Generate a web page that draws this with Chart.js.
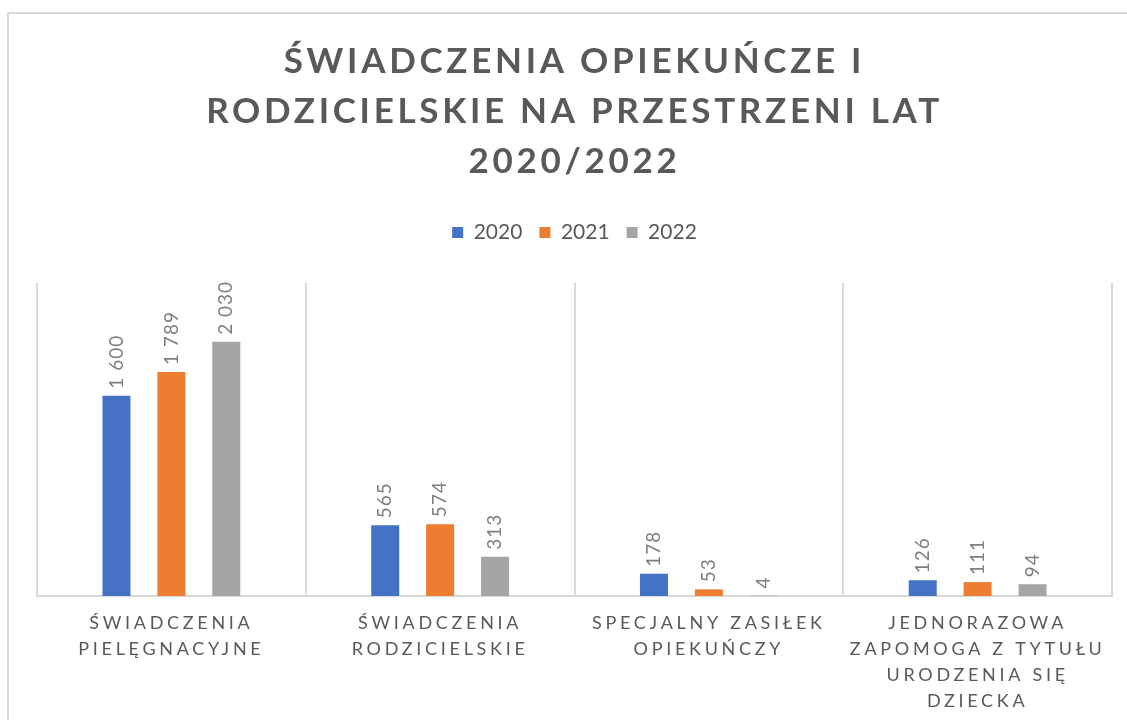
<!DOCTYPE html>
<html><head><meta charset="utf-8">
<script src="https://cdn.jsdelivr.net/npm/chart.js@4.4.1/dist/chart.umd.min.js"></script>
<style>
html,body{margin:0;padding:0;background:#fff;overflow:hidden;}
#frame{position:absolute;left:7px;top:12px;width:1300px;height:900px;border-left:2px solid #d9d9d9;border-top:2px solid #d9d9d9;}
#wrap{position:absolute;left:0;top:0;width:1127px;height:720px;}
</style></head><body>
<div id="frame"></div>
<div id="wrap"><canvas id="c"></canvas></div>
<script>
const titleLines = ['ŚWIADCZENIA OPIEKUŃCZE I', 'RODZICIELSKIE NA PRZESTRZENI LAT', '2020/2022'];
const categories = [
  ['ŚWIADCZENIA', 'PIELĘGNACYJNE'],
  ['ŚWIADCZENIA', 'RODZICIELSKIE'],
  ['SPECJALNY ZASIŁEK', 'OPIEKUŃCZY'],
  ['JEDNORAZOWA', 'ZAPOMOGA Z TYTUŁU', 'URODZENIA SIĘ', 'DZIECKA']
];
const seriesNames = ['2020', '2021', '2022'];
const values2020 = [1600, 565, 178, 126];
const values2021 = [1789, 574, 53, 111];
const values2022 = [2030, 313, 4, 94];
const seriesColors = ['#4472C4', '#ED7D31', '#A5A5A5'];
const yMax = 2500;

const fmt = v => String(v).replace(/\B(?=(\d{3})+(?!\d))/g, ' ');

const helperPlugin = {
  id: 'helper',
  beforeLayout(chart) {
    const lg = chart.legend;
    if (lg && !lg._patched) {
      const f = lg.fit;
      lg.fit = function () { f.apply(this, arguments); this.height += 30; };
      lg._patched = true;
    }
  },
  beforeDraw(chart) {
    const t = chart.titleBlock;
    if (t && !t._patched) {
      const d = t.draw;
      t.draw = function () { const c = this.ctx; c.save(); c.letterSpacing = '3.7px'; d.apply(this, arguments); c.restore(); };
      t._patched = true;
    }
    const x = chart.scales.x;
    if (x && !x._patched) {
      const d = x.drawLabels;
      x.drawLabels = function () { const c = this.ctx; c.save(); c.letterSpacing = '3.7px'; d.apply(this, arguments); c.restore(); };
      x._patched = true;
    }
  },
  afterDatasetsDraw(chart) {
    const ctx = chart.ctx;
    ctx.save();
    ctx.font = '19px Lato';
    ctx.fillStyle = '#7f7f7f';
    ctx.letterSpacing = '1px';
    ctx.textAlign = 'left';
    ctx.textBaseline = 'middle';
    chart.data.datasets.forEach((ds, i) => {
      const meta = chart.getDatasetMeta(i);
      meta.data.forEach((bar, j) => {
        ctx.save();
        ctx.translate(bar.x, bar.y - 7);
        ctx.rotate(-Math.PI / 2);
        ctx.fillText(fmt(ds.data[j]), 0, 0);
        ctx.restore();
      });
    });
    ctx.restore();
  }
};

const allValues = [values2020, values2021, values2022];
new Chart(document.getElementById('c'), {
  type: 'bar',
  data: {
    labels: categories,
    datasets: seriesNames.map((n, i) => ({
      label: n,
      data: allValues[i],
      backgroundColor: seriesColors[i],
      borderWidth: 0,
      categoryPercentage: 0.613,
      barPercentage: 0.51
    }))
  },
  options: {
    responsive: true,
    maintainAspectRatio: false,
    animation: false,
    devicePixelRatio: 1,
    layout: { padding: { left: 37, right: 15, top: 0, bottom: -8 } },
    plugins: {
      tooltip: { enabled: false },
      title: {
        display: true,
        text: titleLines,
        color: '#595959',
        font: { family: 'Lato', size: 35, weight: 'bold', lineHeight: 50 / 35 },
        padding: { top: 37, bottom: 18 }
      },
      legend: {
        display: true,
        position: 'top',
        labels: {
          boxWidth: 11,
          boxHeight: 11,
          padding: 17,
          color: '#595959',
          font: { family: 'Lato', size: 21 }
        }
      }
    },
    scales: {
      x: {
        grid: { color: '#d9d9d9', lineWidth: 2, drawTicks: false, offset: true },
        border: { color: '#d9d9d9', width: 2 },
        ticks: {
          color: '#595959',
          font: { family: 'Lato', size: 18, lineHeight: 26 / 18 },
          padding: 14,
          maxRotation: 0,
          autoSkip: false
        }
      },
      y: { display: false, min: 0, max: yMax }
    }
  },
  plugins: [helperPlugin]
});
</script>
</body></html>
